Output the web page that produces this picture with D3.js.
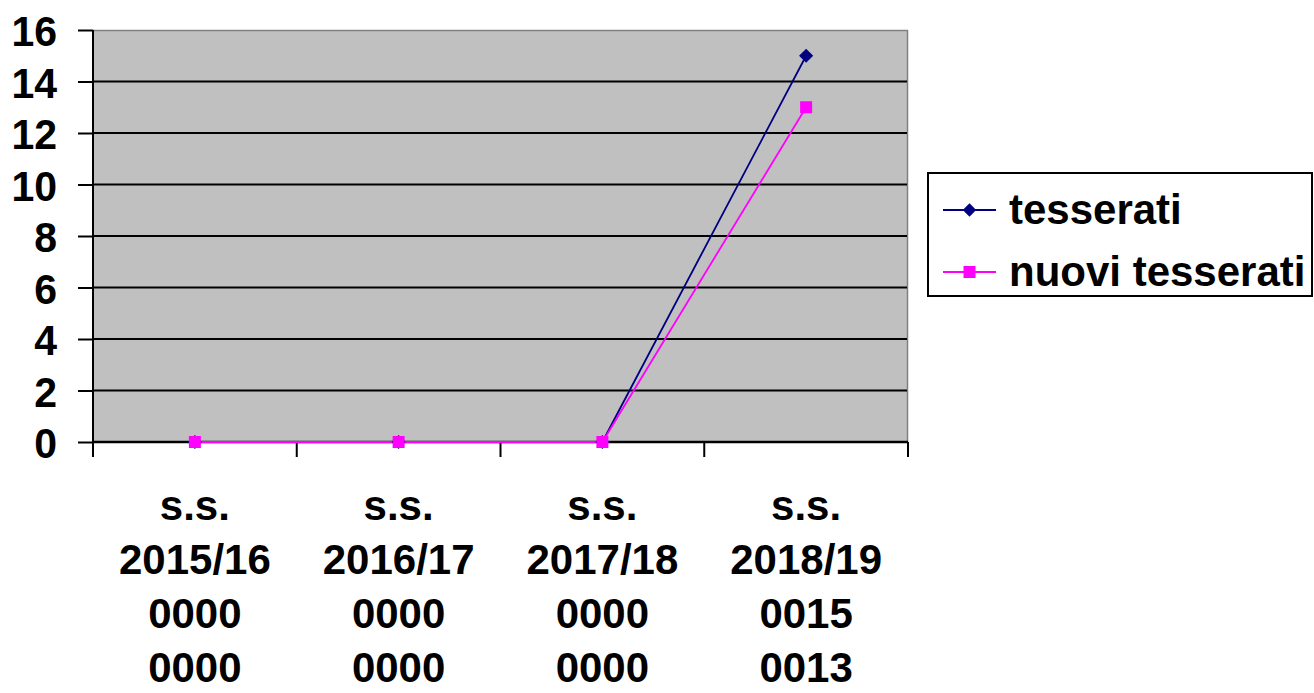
<!DOCTYPE html>
<html><head><meta charset="utf-8">
<script src="https://cdn.jsdelivr.net/npm/d3@7"></script>
<style>html,body{margin:0;padding:0;background:#fff;}svg{display:block;font-family:"Liberation Sans",Arial,sans-serif;font-weight:bold;}</style>
</head><body>
<svg id="c" width="1314" height="693"></svg>
<script>
const categories = ["2015/16","2016/17","2017/18","2018/19"];
const tesserati = [0,0,0,15];
const nuoviTesserati = [0,0,0,13];
const yTicks = [0,2,4,6,8,10,12,14,16];
const seriesNames = ["tesserati","nuovi tesserati"];
const seriesColors = ["#000080","#FF00FF"];

const svg = d3.select("#c");
const L=93,R=908,T=30,B=442;
const x = d3.scaleBand().domain(categories).range([L,R]).padding(0);
const y = d3.scaleLinear().domain([0,16]).range([B,T]);

svg.append("rect").attr("x",L).attr("y",T).attr("width",R-L).attr("height",B-T).attr("fill","#C0C0C0");
svg.append("path").attr("d",`M${L},${T+0.5}H${R-0.5}V${B}`).attr("fill","none").attr("stroke","#808080").attr("stroke-width",1.5);
svg.append("g").selectAll("line").data(yTicks.filter(d=>d>0&&d<16)).join("line")
  .attr("x1",L).attr("x2",R-1).attr("y1",d=>y(d)).attr("y2",d=>y(d)).attr("stroke","#000").attr("stroke-width",2);

const yAxis = d3.axisLeft(y).tickValues(yTicks).tickSize(15).tickPadding(21).tickFormat(d3.format("d"));
const gy = svg.append("g").attr("transform",`translate(${L},0)`).call(yAxis);
gy.select(".domain").attr("stroke","#000").attr("stroke-width",2).attr("d",`M0,${T}V${B+15}`);
gy.selectAll(".tick line").attr("stroke","#000").attr("stroke-width",2);
gy.selectAll(".tick text").attr("font-size",41).attr("font-weight","bold").attr("fill","#000")
  .attr("font-family","Liberation Sans, Arial, sans-serif").attr("dy","0.36em")
  .attr("transform","scale(1,1.06)");

svg.append("line").attr("x1",L).attr("x2",R).attr("y1",B).attr("y2",B).attr("stroke","#000").attr("stroke-width",2.5);
const bounds = categories.map(c=>x(c)).concat([x(categories[categories.length-1])+x.bandwidth()]);
svg.append("g").selectAll("line").data(bounds).join("line")
  .attr("x1",d=>d).attr("x2",d=>d).attr("y1",B).attr("y2",B+15).attr("stroke","#000").attr("stroke-width",2);

const fmt = d3.format("04d");
const cx = d=>x(d)+x.bandwidth()/2;
const xl = svg.append("g").selectAll("text").data(categories).join("text")
  .attr("text-anchor","middle").attr("font-size",42).attr("fill","#000")
  .attr("x",d=>cx(d));
xl.each(function(d,i){
  const lines=["s.s.",d,fmt(tesserati[i]),fmt(nuoviTesserati[i])];
  d3.select(this).selectAll("tspan").data(lines).join("tspan")
    .attr("x",cx(d)).attr("y",(l,j)=>520+j*54).text(l=>l);
});

const line = d3.line().x((v,i)=>cx(categories[i])).y(v=>y(v));
[tesserati,nuoviTesserati].forEach((s,k)=>{
  svg.append("path").attr("d",line(s)).attr("fill","none").attr("stroke",seriesColors[k]).attr("stroke-width",1.8);
});
svg.append("g").selectAll("path").data(tesserati).join("path")
  .attr("d",d3.symbol(d3.symbolSquare,100))
  .attr("transform",(v,i)=>`translate(${cx(categories[i])},${y(v)}) rotate(45)`).attr("fill",seriesColors[0]);
svg.append("g").selectAll("rect").data(nuoviTesserati).join("rect")
  .attr("x",(v,i)=>cx(categories[i])-6).attr("y",v=>y(v)-6).attr("width",12).attr("height",12).attr("fill",seriesColors[1]);

const lg = svg.append("g");
lg.append("rect").attr("x",928).attr("y",173).attr("width",384).attr("height",123).attr("fill","#fff").attr("stroke","#000").attr("stroke-width",2);
seriesNames.forEach((n,k)=>{
  const ly = k===0?210:272;
  lg.append("line").attr("x1",943).attr("x2",996).attr("y1",ly).attr("y2",ly).attr("stroke",seriesColors[k]).attr("stroke-width",1.8);
  if(k===0) lg.append("path").attr("d",d3.symbol(d3.symbolSquare,90)()).attr("transform",`translate(969.5,${ly}) rotate(45)`).attr("fill",seriesColors[0]);
  else lg.append("rect").attr("x",963.5).attr("y",ly-6).attr("width",12).attr("height",12).attr("fill",seriesColors[1]);
  lg.append("text").attr("x",1009).attr("y",ly+14).attr("font-size",42).attr("fill","#000").text(n);
});
</script>
</body></html>
